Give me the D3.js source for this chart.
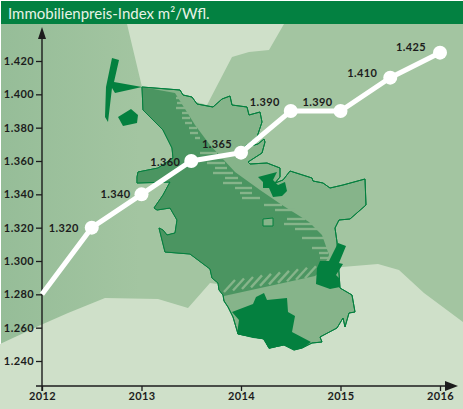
<!DOCTYPE html>
<html>
<head>
<meta charset="utf-8">
<script src="https://cdn.jsdelivr.net/npm/d3@7"></script>
<style>
	body { margin: 0; background: #fff; }
	svg { display: block; }
	text { font-family: Lato, sans-serif; }
</style>
</head>
<body>
<div id="my_dataviz"></div>
<script>
// chart values
const years = [2012, 2012.5, 2013, 2013.5, 2014, 2014.5, 2015, 2015.5, 2016];
const prices = [1280, 1320, 1340, 1360, 1365, 1390, 1390, 1410, 1425];
const markerShown = [false, true, true, true, true, true, true, true, true];
const yTicks = [1240, 1260, 1280, 1300, 1320, 1340, 1360, 1380, 1400, 1420];
const xTicks = [2012, 2013, 2014, 2015, 2016];
const title = "Immobilienpreis-Index m²/Wfl.";

// label position next to each marker
const labelDx = [0, -28, -26, -26, -24, -26, -23, -28, -29];
const labelDy = [0, 4, 4, 5, -5, -5, -5, -1, -2];

// the map behind the chart, traced in pixels
const seaLight = [[127,24],[142,87],[207,105],[232,57],[249,52],[269,50],[284,24]];
const landLight = [[0,344],[43,324],[68,313],[105,298],[158,299],[188,308],[210,283],[260,290],[342,267],[378,264],[399,270],[424,293],[463,322],[463,409],[0,409]];
const mapOutline = [[142,87],[180,90],[183,95],[192,97],[197,104],[213,107],[222,99],[230,96],[232,105],[247,107],[249,115],[260,112],[262,122],[257,137],[243,148],[258,144],[264,139],[265,142],[262,153],[248,162],[250,164],[267,163],[280,168],[280,177],[275,183],[283,180],[290,171],[312,178],[313,181],[323,183],[330,188],[343,185],[365,179],[366,205],[350,219],[339,220],[335,228],[337,242],[340,288],[352,295],[355,312],[349,313],[345,327],[343,318],[337,328],[320,337],[322,342],[312,343],[302,348],[294,350],[284,345],[269,348],[264,339],[238,334],[233,317],[228,307],[224,301],[223,295],[219,290],[218,283],[212,278],[210,269],[190,254],[165,252],[159,228],[163,230],[167,235],[175,233],[177,220],[170,208],[157,210],[154,208],[163,195],[170,182],[137,183],[137,177],[138,172],[158,168],[173,158],[172,148],[163,130],[143,110]];
const mapWest = [[142,87],[175,93],[195,125],[210,145],[235,172],[260,190],[282,205],[309,222],[322,235],[329,255],[322,270],[315,276],[224,296],[223,295],[219,290],[218,283],[212,278],[210,269],[190,254],[165,252],[159,228],[163,230],[167,235],[175,233],[177,220],[170,208],[157,210],[154,208],[163,195],[170,182],[137,183],[137,177],[138,172],[158,168],[173,158],[172,148],[163,130],[143,110]];
const islandNorth = [[112,58],[119,60],[114,82],[142,87],[115,93],[112,88],[108,122],[105,117],[106,87]];
const islandWest = [[118,117],[131,109],[138,115],[137,123],[123,126]];
const cityEast = [[258,177],[277,172],[273,180],[278,185],[285,182],[287,191],[282,196],[273,197],[269,188],[263,188],[263,182]];
const cityCentre = [[338,243],[346,246],[339,263],[343,264],[336,275],[340,279],[340,287],[330,289],[316,284],[317,268],[320,261],[329,261]];
const citySouth = [[232,312],[253,304],[256,297],[264,293],[267,300],[287,298],[288,312],[295,316],[292,332],[311,342],[303,348],[294,350],[284,345],[269,349],[263,339],[253,338],[237,334],[239,320]];
const holeSquare = [[263,219],[273,218],[273,226],[263,226]];

// horizontal stripes along the inner edge [y, x1, x2]
const stripes = [[98,176,182],[103,177,183],[108,176,185],[113,182,188],[118,182,190],[123,185,192],[128,189,197],[133,190,198],[138,195,200],[153,200,217],[158,208,227],[163,207,225],[168,215,227],[173,213,233],[178,225,238],[183,223,242],[188,235,252],[193,240,252],[198,242,260],[205,264,282],[210,275,295],[219,287,305],[224,284,312],[229,295,320],[238,302,325],[248,312,328],[253,319,328],[258,320,328]];
// slanted hatching along the southern edge, start of each dash on x
const hatchX = [224,233,242,251,260,269,278,287,296,305];

const fullWidth = 463,
	fullHeight = 409;

const svg = d3
	.select("#my_dataviz")
	.append("svg")
	.attr("width", fullWidth)
	.attr("height", fullHeight);

const toPath = d3.line();

// background
const defs = svg.append("defs");
const grad = defs.append("linearGradient").attr("id", "bgGrad");
grad.append("stop").attr("offset", "0").attr("stop-color", "#96bd98");
grad.append("stop").attr("offset", "0.3").attr("stop-color", "#a3c5a1");
grad.append("stop").attr("offset", "1").attr("stop-color", "#a3c5a1");

svg.append("rect")
	.attr("x", 1)
	.attr("y", 1)
	.attr("width", fullWidth - 1)
	.attr("height", fullHeight - 1)
	.attr("fill", "url(#bgGrad)");

const background = svg.append("g");
function shape(points, fill, stroke) {
	background
		.append("path")
		.attr("d", toPath(points) + "Z")
		.attr("fill", fill)
		.attr("stroke", stroke || "none")
		.attr("stroke-width", stroke ? 1 : 0)
		.attr("stroke-linejoin", "round");
}
shape(seaLight, "#cfe0c9");
shape(landLight, "#cfe0c9");
shape(mapOutline, "#86b48a", "#04803f");
shape(mapWest, "#4b9561");
background
	.append("path")
	.attr("d", toPath(mapOutline) + "Z")
	.attr("fill", "none")
	.attr("stroke", "#04803f")
	.attr("stroke-width", 1);

// stripes
background
	.selectAll("line.stripe")
	.data(stripes)
	.join("line")
	.attr("class", "stripe")
	.attr("x1", (d) => d[1])
	.attr("x2", (d) => d[2])
	.attr("y1", (d) => d[0])
	.attr("y2", (d) => d[0])
	.attr("stroke", "#86b48a")
	.attr("stroke-width", 2.4);
background
	.selectAll("line.hatch")
	.data(hatchX)
	.join("line")
	.attr("class", "hatch")
	.attr("x1", (d) => d)
	.attr("x2", (d) => d + 11)
	.attr("y1", (d) => 292 - (d - 224) * 0.17)
	.attr("y2", (d) => 280 - (d - 224) * 0.17)
	.attr("stroke", "#86b48a")
	.attr("stroke-width", 2.4);

shape(islandNorth, "#04803f");
shape(islandWest, "#04803f");
shape(cityEast, "#04803f");
shape(cityCentre, "#04803f");
shape(citySouth, "#04803f");
shape(holeSquare, "#86b48a", "#04803f");

// header
svg.append("rect")
	.attr("x", 1)
	.attr("y", 1)
	.attr("width", fullWidth - 1)
	.attr("height", 23)
	.attr("fill", "#038141");
svg.append("text")
	.attr("x", 8)
	.attr("y", 19)
	.attr("fill", "#e8f3e6")
	.style("font-size", "15px")
	.text(title);

// scales
const x = d3.scaleLinear().domain([2012, 2016]).range([42, 440]);
const y = d3.scaleLinear().domain([1240, 1420]).range([361, 61]);
const deDE = d3.formatLocale({ decimal: ",", thousands: ".", grouping: [3], currency: ["", "€"] });
const yFormat = deDE.format(",d");

// axes
const yAxis = svg
	.append("g")
	.attr("transform", "translate(42,0)")
	.call(d3.axisLeft(y).tickValues(yTicks).tickFormat(yFormat).tickSize(6).tickPadding(2).tickSizeOuter(0));
yAxis.select(".domain").remove();
const xAxis = svg
	.append("g")
	.attr("transform", "translate(0,386)")
	.call(d3.axisBottom(x).tickValues(xTicks).tickFormat(d3.format("d")).tickSize(5).tickPadding(1).tickSizeOuter(0));
xAxis.select(".domain").remove();
svg.selectAll(".tick line").attr("stroke", "#1c1c1c").attr("stroke-width", 1.3);
svg.selectAll(".tick text")
	.attr("fill", "#1c1c1c")
	.style("font-family", "Lato, sans-serif")
	.style("font-size", "11px")
	.style("font-weight", "bold")
	.style("letter-spacing", "0.4px");

// long axis lines with arrow heads
svg.append("line")
	.attr("x1", 42).attr("x2", 42).attr("y1", 391).attr("y2", 36)
	.attr("stroke", "#1c1c1c").attr("stroke-width", 1.4);
svg.append("line")
	.attr("x1", 36).attr("x2", 450).attr("y1", 386).attr("y2", 386)
	.attr("stroke", "#1c1c1c").attr("stroke-width", 1.4);
svg.append("path").attr("d", "M42,27L46,39L38,39Z").attr("fill", "#1c1c1c");
svg.append("path").attr("d", "M458,386L445,381L445,391Z").attr("fill", "#1c1c1c");

// price line
const points = years.map((year, i) => ({ year: year, price: prices[i], i: i }));
svg.append("path")
	.datum(points)
	.attr("fill", "none")
	.attr("stroke", "#fff")
	.attr("stroke-width", 5)
	.attr("d", d3.line().x((d) => x(d.year)).y((d) => y(d.price)));
svg.selectAll("circle.marker")
	.data(points.filter((d) => markerShown[d.i]))
	.join("circle")
	.attr("class", "marker")
	.attr("cx", (d) => x(d.year))
	.attr("cy", (d) => y(d.price))
	.attr("r", 7)
	.attr("fill", "#fff");
svg.selectAll("text.value")
	.data(points.filter((d) => markerShown[d.i]))
	.join("text")
	.attr("class", "value")
	.attr("x", (d) => x(d.year) + labelDx[d.i])
	.attr("y", (d) => y(d.price) + labelDy[d.i])
	.attr("text-anchor", "middle")
	.attr("fill", "#1c1c1c")
	.style("font-size", "11px")
	.style("font-weight", "bold")
	.style("letter-spacing", "0.4px")
	.text((d) => yFormat(d.price));
</script>
</body>
</html>
